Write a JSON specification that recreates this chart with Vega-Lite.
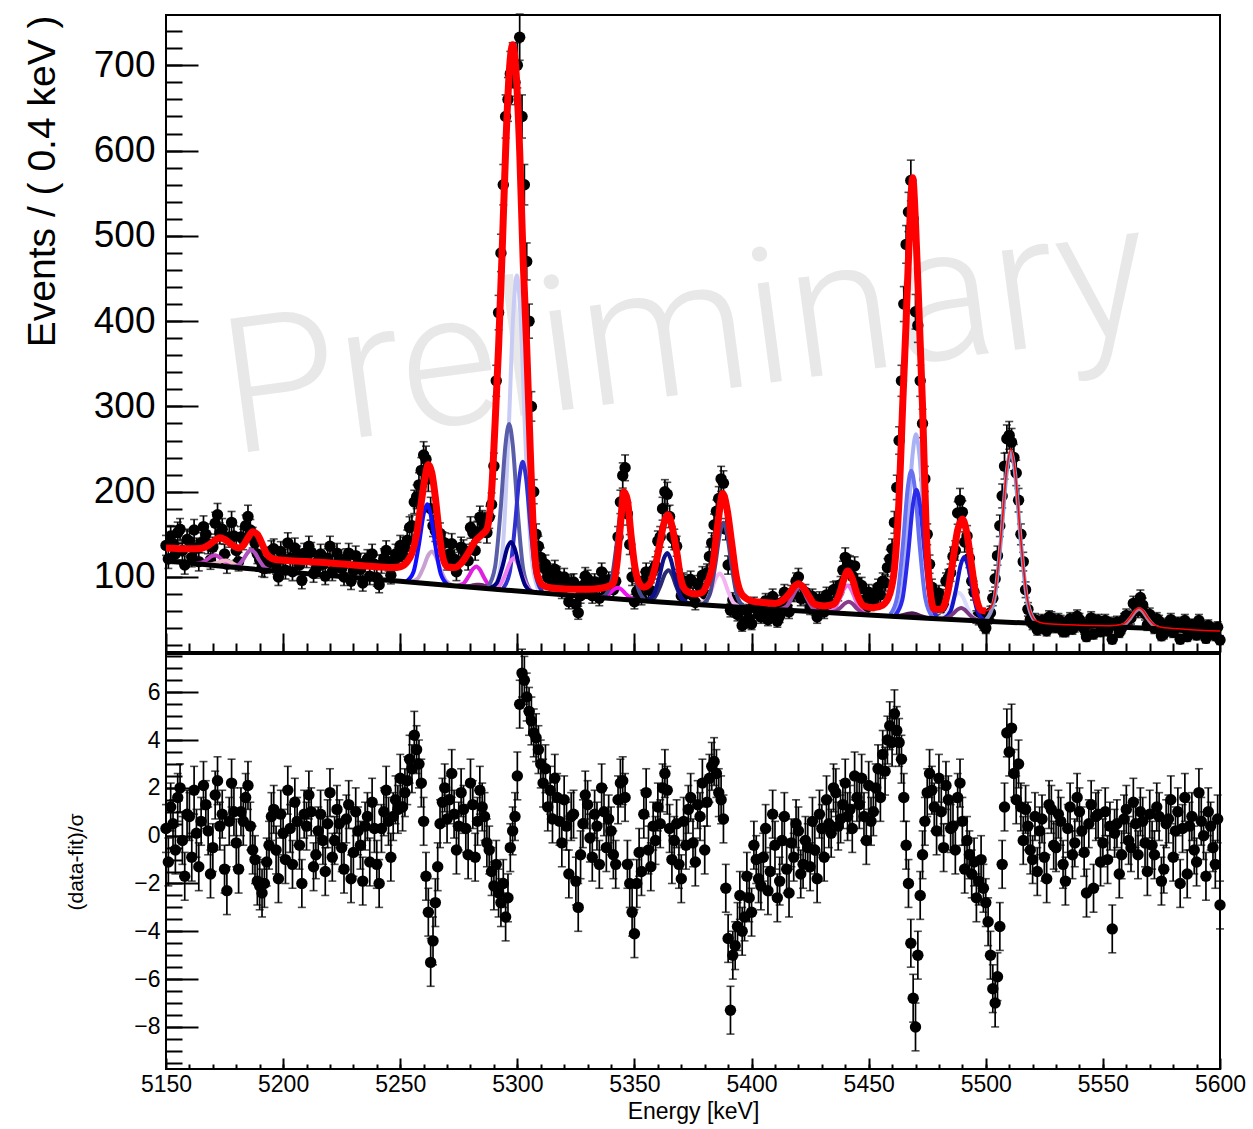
{
"$schema": "https://vega.github.io/schema/vega-lite/v6.json",
"padding": {"left": 22, "top": 12, "right": 5, "bottom": 5},
"background": "white",
"config": {"view": {"stroke": "black", "strokeWidth": 2}, "axis": {"grid": false, "domain": false, "tickColor": "black", "tickWidth": 2, "labelColor": "black", "titleColor": "black", "labelFont": "Liberation Sans", "titleFont": "Liberation Sans", "titleFontWeight": "normal", "labelOverlap": false, "labelFlush": false}},
"spacing": 2,
"bounds": "flush",
"datasets": {
"pts": [
{"E":5150,"n":137,"e":11.7,"r":0.3,"u":1},{"E":5151,"n":121,"e":11.0,"r":-1.1,"u":1},{"E":5152,"n":148,"e":12.2,"r":1.2,"u":1},{"E":5153,"n":139,"e":11.8,"r":0.5,"u":1},{"E":5154,"n":127,"e":11.3,"r":-0.6,"u":1},{"E":5155,"n":152,"e":12.3,"r":1.6,"u":1},{"E":5156,"n":156,"e":12.5,"r":2.0,"u":1},{"E":5157,"n":131,"e":11.4,"r":-0.2,"u":1},{"E":5158,"n":114,"e":10.7,"r":-1.7,"u":1},{"E":5159,"n":144,"e":12.0,"r":0.9,"u":1},
{"E":5160,"n":142,"e":11.9,"r":0.8,"u":1},{"E":5161,"n":123,"e":11.1,"r":-0.9,"u":1},{"E":5162,"n":155,"e":12.4,"r":1.9,"u":1},{"E":5163,"n":134,"e":11.6,"r":0.1,"u":1},{"E":5164,"n":118,"e":10.9,"r":-1.3,"u":1},{"E":5165,"n":140,"e":11.8,"r":0.6,"u":1},{"E":5166,"n":159,"e":12.6,"r":2.1,"u":1},{"E":5167,"n":150,"e":12.2,"r":1.3,"u":1},{"E":5168,"n":139,"e":11.8,"r":0.2,"u":1},{"E":5169,"n":120,"e":11.0,"r":-1.6,"u":1},
{"E":5170,"n":135,"e":11.6,"r":-0.5,"u":1},{"E":5171,"n":163,"e":12.8,"r":1.7,"u":1},{"E":5172,"n":173,"e":13.2,"r":2.3,"u":1},{"E":5173,"n":151,"e":12.3,"r":0.4,"u":1},{"E":5174,"n":156,"e":12.5,"r":0.9,"u":1},{"E":5175,"n":127,"e":11.3,"r":-1.4,"u":1},{"E":5176,"n":115,"e":10.7,"r":-2.3,"u":1},{"E":5177,"n":147,"e":12.1,"r":0.6,"u":1},{"E":5178,"n":164,"e":12.8,"r":2.2,"u":1},{"E":5179,"n":148,"e":12.2,"r":1.0,"u":1},
{"E":5180,"n":131,"e":11.4,"r":-0.3,"u":1},{"E":5181,"n":118,"e":10.9,"r":-1.4,"u":1},{"E":5182,"n":147,"e":12.1,"r":1.0,"u":1},{"E":5183,"n":144,"e":12.0,"r":0.6,"u":1},{"E":5184,"n":160,"e":12.6,"r":1.6,"u":1},{"E":5185,"n":171,"e":13.1,"r":2.1,"u":1},{"E":5186,"n":155,"e":12.4,"r":0.4,"u":1},{"E":5187,"n":146,"e":12.1,"r":-0.6,"u":1},{"E":5188,"n":140,"e":11.8,"r":-1.0,"u":1},{"E":5189,"n":127,"e":11.3,"r":-1.9,"u":1},
{"E":5190,"n":120,"e":11.0,"r":-2.1,"u":1},{"E":5191,"n":111,"e":10.5,"r":-2.4,"u":1},{"E":5192,"n":110,"e":10.5,"r":-2.0,"u":1},{"E":5193,"n":115,"e":10.7,"r":-1.1,"u":1},{"E":5194,"n":120,"e":11.0,"r":-0.4,"u":1},{"E":5195,"n":131,"e":11.4,"r":0.8,"u":1},{"E":5196,"n":133,"e":11.5,"r":1.1,"u":1},{"E":5197,"n":114,"e":10.7,"r":-0.6,"u":1},{"E":5198,"n":100,"e":10.0,"r":-1.8,"u":1},{"E":5199,"n":130,"e":11.4,"r":0.9,"u":1},
{"E":5200,"n":121,"e":11.0,"r":0.1,"u":1},{"E":5201,"n":108,"e":10.4,"r":-1.0,"u":1},{"E":5202,"n":140,"e":11.8,"r":1.9,"u":1},{"E":5203,"n":122,"e":11.0,"r":0.3,"u":1},{"E":5204,"n":106,"e":10.3,"r":-1.2,"u":1},{"E":5205,"n":134,"e":11.6,"r":1.4,"u":1},{"E":5206,"n":125,"e":11.2,"r":0.6,"u":1},{"E":5207,"n":114,"e":10.7,"r":-0.4,"u":1},{"E":5208,"n":96,"e":9.8,"r":-2.0,"u":1},{"E":5209,"n":128,"e":11.3,"r":0.9,"u":1},
{"E":5210,"n":122,"e":11.0,"r":0.4,"u":1},{"E":5211,"n":136,"e":11.7,"r":1.7,"u":1},{"E":5212,"n":129,"e":11.4,"r":1.0,"u":1},{"E":5213,"n":104,"e":10.2,"r":-1.3,"u":1},{"E":5214,"n":109,"e":10.4,"r":-0.8,"u":1},{"E":5215,"n":119,"e":10.9,"r":0.2,"u":1},{"E":5216,"n":127,"e":11.3,"r":0.9,"u":1},{"E":5217,"n":115,"e":10.7,"r":-0.2,"u":1},{"E":5218,"n":101,"e":10.0,"r":-1.5,"u":1},{"E":5219,"n":122,"e":11.0,"r":0.5,"u":1},
{"E":5220,"n":136,"e":11.7,"r":1.8,"u":1},{"E":5221,"n":106,"e":10.3,"r":-0.9,"u":1},{"E":5222,"n":114,"e":10.7,"r":-0.2,"u":1},{"E":5223,"n":128,"e":11.3,"r":1.1,"u":1},{"E":5224,"n":121,"e":11.0,"r":0.5,"u":1},{"E":5225,"n":110,"e":10.5,"r":-0.5,"u":1},{"E":5226,"n":100,"e":10.0,"r":-1.4,"u":1},{"E":5227,"n":122,"e":11.0,"r":0.7,"u":1},{"E":5228,"n":128,"e":11.3,"r":1.3,"u":1},{"E":5229,"n":95,"e":9.7,"r":-1.8,"u":1},
{"E":5230,"n":107,"e":10.3,"r":-0.7,"u":1},{"E":5231,"n":125,"e":11.2,"r":1.0,"u":1},{"E":5232,"n":116,"e":10.8,"r":0.2,"u":1},{"E":5233,"n":109,"e":10.4,"r":-0.4,"u":1},{"E":5234,"n":93,"e":9.6,"r":-1.9,"u":1},{"E":5235,"n":117,"e":10.8,"r":0.4,"u":1},{"E":5236,"n":121,"e":11.0,"r":0.8,"u":1},{"E":5237,"n":101,"e":10.0,"r":-1.1,"u":1},{"E":5238,"n":127,"e":11.3,"r":1.4,"u":1},{"E":5239,"n":115,"e":10.7,"r":0.3,"u":1},
{"E":5240,"n":99,"e":9.9,"r":-1.2,"u":1},{"E":5241,"n":91,"e":9.5,"r":-2.0,"u":1},{"E":5242,"n":115,"e":10.7,"r":0.3,"u":1},{"E":5243,"n":122,"e":11.0,"r":1.0,"u":1},{"E":5244,"n":131,"e":11.4,"r":1.9,"u":1},{"E":5245,"n":118,"e":10.9,"r":0.6,"u":1},{"E":5246,"n":102,"e":10.1,"r":-0.9,"u":1},{"E":5247,"n":119,"e":10.9,"r":0.8,"u":1},{"E":5248,"n":127,"e":11.3,"r":1.5,"u":1},{"E":5249,"n":123,"e":11.1,"r":1.1,"u":1},
{"E":5250,"n":137,"e":11.7,"r":2.4,"u":1},{"E":5251,"n":126,"e":11.2,"r":1.2,"u":1},{"E":5252,"n":135,"e":11.6,"r":1.8,"u":1},{"E":5253,"n":143,"e":12.0,"r":2.3,"u":1},{"E":5254,"n":158,"e":12.6,"r":3.2,"u":1},{"E":5255,"n":160,"e":12.6,"r":2.8,"u":1},{"E":5256,"n":188,"e":13.7,"r":4.2,"u":1},{"E":5257,"n":194,"e":13.9,"r":3.6,"u":1},{"E":5258,"n":208,"e":14.4,"r":3.0,"u":1},{"E":5259,"n":225,"e":15.0,"r":2.2,"u":1},
{"E":5260,"n":243,"e":15.6,"r":0.6,"u":1},{"E":5261,"n":238,"e":15.4,"r":-1.7,"u":1},{"E":5262,"n":215,"e":14.7,"r":-3.2,"u":1},{"E":5263,"n":180,"e":13.4,"r":-5.3,"u":1},{"E":5264,"n":160,"e":12.6,"r":-4.4,"u":1},{"E":5265,"n":154,"e":12.4,"r":-2.8,"u":1},{"E":5266,"n":151,"e":12.3,"r":-1.3,"u":1},{"E":5267,"n":151,"e":12.3,"r":0.5,"u":1},{"E":5268,"n":141,"e":11.9,"r":1.4,"u":1},{"E":5269,"n":140,"e":11.8,"r":2.0,"u":1},
{"E":5270,"n":119,"e":10.9,"r":0.7,"u":1},{"E":5271,"n":127,"e":11.3,"r":1.5,"u":1},{"E":5272,"n":139,"e":11.8,"r":2.6,"u":1},{"E":5273,"n":121,"e":11.0,"r":0.9,"u":1},{"E":5274,"n":106,"e":10.3,"r":-0.6,"u":1},{"E":5275,"n":118,"e":10.9,"r":0.4,"u":1},{"E":5276,"n":135,"e":11.6,"r":1.8,"u":1},{"E":5277,"n":132,"e":11.5,"r":1.1,"u":1},{"E":5278,"n":127,"e":11.3,"r":0.3,"u":1},{"E":5279,"n":119,"e":10.9,"r":-0.8,"u":1},
{"E":5280,"n":158,"e":12.6,"r":2.2,"u":1},{"E":5281,"n":152,"e":12.3,"r":1.3,"u":1},{"E":5282,"n":131,"e":11.4,"r":-0.9,"u":1},{"E":5283,"n":153,"e":12.4,"r":0.6,"u":1},{"E":5284,"n":170,"e":13.0,"r":1.9,"u":1},{"E":5285,"n":165,"e":12.8,"r":1.2,"u":1},{"E":5286,"n":163,"e":12.8,"r":0.8,"u":1},{"E":5287,"n":152,"e":12.3,"r":-0.3,"u":1},{"E":5288,"n":170,"e":13.0,"r":-0.6,"u":1},{"E":5289,"n":185,"e":13.6,"r":-1.5,"u":1},
{"E":5290,"n":230,"e":15.2,"r":-2.1,"u":1},{"E":5291,"n":330,"e":18.2,"r":-1.2,"u":1},{"E":5292,"n":410,"e":20.2,"r":-2.4,"u":1},{"E":5293,"n":480,"e":21.9,"r":-2.8,"u":1},{"E":5294,"n":560,"e":23.7,"r":-2.0,"u":1},{"E":5295,"n":640,"e":25.3,"r":-3.4,"u":1},{"E":5296,"n":660,"e":25.7,"r":-2.6,"u":1},{"E":5297,"n":690,"e":26.3,"r":-0.5,"u":1},{"E":5298,"n":700,"e":26.5,"r":0.2,"u":1},{"E":5299,"n":680,"e":26.1,"r":0.8,"u":1},
{"E":5300,"n":700,"e":26.5,"r":2.5,"u":1},{"E":5301,"n":733,"e":27.1,"r":5.5,"u":1},{"E":5302,"n":640,"e":25.3,"r":6.8,"u":1},{"E":5303,"n":560,"e":23.7,"r":6.5,"u":1},{"E":5304,"n":470,"e":21.7,"r":5.8,"u":1},{"E":5305,"n":400,"e":20.0,"r":5.2,"u":1},{"E":5306,"n":300,"e":17.3,"r":4.8,"u":1},{"E":5307,"n":200,"e":14.1,"r":4.3,"u":1},{"E":5308,"n":150,"e":12.2,"r":4.1,"u":1},{"E":5309,"n":136,"e":11.7,"r":3.6,"u":1},
{"E":5310,"n":123,"e":11.1,"r":3.0,"u":1},{"E":5311,"n":111,"e":10.5,"r":2.2,"u":1},{"E":5312,"n":115,"e":10.7,"r":2.8,"u":1},{"E":5313,"n":99,"e":9.9,"r":1.2,"u":1},{"E":5314,"n":105,"e":10.2,"r":1.9,"u":1},{"E":5315,"n":94,"e":9.7,"r":0.7,"u":1},{"E":5316,"n":109,"e":10.4,"r":2.4,"u":1},{"E":5317,"n":102,"e":10.1,"r":1.6,"u":1},{"E":5318,"n":92,"e":9.6,"r":0.6,"u":1},{"E":5319,"n":84,"e":9.2,"r":-0.3,"u":1},
{"E":5320,"n":100,"e":10.0,"r":1.5,"u":1},{"E":5321,"n":90,"e":9.5,"r":0.4,"u":1},{"E":5322,"n":71,"e":8.4,"r":-1.6,"u":1},{"E":5323,"n":93,"e":9.6,"r":0.8,"u":1},{"E":5324,"n":94,"e":9.7,"r":0.9,"u":1},{"E":5325,"n":68,"e":8.2,"r":-1.9,"u":1},{"E":5326,"n":58,"e":7.6,"r":-3.0,"u":1},{"E":5327,"n":78,"e":8.8,"r":-0.8,"u":1},{"E":5328,"n":90,"e":9.5,"r":0.5,"u":1},{"E":5329,"n":101,"e":10.0,"r":1.7,"u":1},
{"E":5330,"n":98,"e":9.9,"r":1.3,"u":1},{"E":5331,"n":85,"e":9.2,"r":-0.1,"u":1},{"E":5332,"n":78,"e":8.8,"r":-0.9,"u":1},{"E":5333,"n":94,"e":9.7,"r":0.9,"u":1},{"E":5334,"n":90,"e":9.5,"r":0.4,"u":1},{"E":5335,"n":75,"e":8.7,"r":-1.2,"u":1},{"E":5336,"n":106,"e":10.3,"r":2.0,"u":1},{"E":5337,"n":97,"e":9.8,"r":1.0,"u":1},{"E":5338,"n":83,"e":9.1,"r":-0.5,"u":1},{"E":5339,"n":96,"e":9.8,"r":0.7,"u":1},
{"E":5340,"n":93,"e":9.6,"r":0.2,"u":1},{"E":5341,"n":85,"e":9.2,"r":-0.8,"u":1},{"E":5342,"n":95,"e":9.7,"r":-1.2,"u":1},{"E":5343,"n":147,"e":12.1,"r":1.5,"u":1},{"E":5344,"n":188,"e":13.7,"r":2.2,"u":1},{"E":5345,"n":219,"e":14.8,"r":2.3,"u":1},{"E":5346,"n":228,"e":15.1,"r":1.6,"u":1},{"E":5347,"n":174,"e":13.2,"r":-1.2,"u":1},{"E":5348,"n":138,"e":11.7,"r":-2.0,"u":1},{"E":5349,"n":100,"e":10.0,"r":-3.2,"u":1},
{"E":5350,"n":71,"e":8.4,"r":-4.1,"u":1},{"E":5351,"n":83,"e":9.1,"r":-2.0,"u":1},{"E":5352,"n":86,"e":9.3,"r":-0.7,"u":1},{"E":5353,"n":76,"e":8.7,"r":-1.5,"u":1},{"E":5354,"n":96,"e":9.8,"r":0.9,"u":1},{"E":5355,"n":106,"e":10.3,"r":1.8,"u":1},{"E":5356,"n":85,"e":9.2,"r":-0.6,"u":1},{"E":5357,"n":84,"e":9.2,"r":-1.3,"u":1},{"E":5358,"n":108,"e":10.4,"r":0.4,"u":1},{"E":5359,"n":113,"e":10.6,"r":-0.2,"u":1},
{"E":5360,"n":142,"e":11.9,"r":1.2,"u":1},{"E":5361,"n":147,"e":12.1,"r":0.5,"u":1},{"E":5362,"n":180,"e":13.4,"r":2.0,"u":1},{"E":5363,"n":200,"e":14.1,"r":2.6,"u":1},{"E":5364,"n":197,"e":14.0,"r":1.9,"u":1},{"E":5365,"n":171,"e":13.1,"r":0.3,"u":1},{"E":5366,"n":147,"e":12.1,"r":-1.0,"u":1},{"E":5367,"n":144,"e":12.0,"r":-0.2,"u":1},{"E":5368,"n":136,"e":11.7,"r":0.5,"u":1},{"E":5369,"n":99,"e":9.9,"r":-1.2,"u":1},
{"E":5370,"n":78,"e":8.8,"r":-1.8,"u":1},{"E":5371,"n":95,"e":9.7,"r":0.6,"u":1},{"E":5372,"n":80,"e":8.9,"r":-0.4,"u":1},{"E":5373,"n":93,"e":9.6,"r":1.1,"u":1},{"E":5374,"n":97,"e":9.8,"r":1.6,"u":1},{"E":5375,"n":78,"e":8.8,"r":-0.3,"u":1},{"E":5376,"n":70,"e":8.4,"r":-1.1,"u":1},{"E":5377,"n":92,"e":9.6,"r":1.3,"u":1},{"E":5378,"n":88,"e":9.4,"r":0.8,"u":1},{"E":5379,"n":102,"e":10.1,"r":2.2,"u":1},
{"E":5380,"n":80,"e":8.9,"r":-0.6,"u":1},{"E":5381,"n":105,"e":10.2,"r":1.4,"u":1},{"E":5382,"n":124,"e":11.1,"r":2.4,"u":1},{"E":5383,"n":140,"e":11.8,"r":2.9,"u":1},{"E":5384,"n":161,"e":12.7,"r":3.1,"u":1},{"E":5385,"n":177,"e":13.3,"r":2.6,"u":1},{"E":5386,"n":192,"e":13.9,"r":1.8,"u":1},{"E":5387,"n":215,"e":14.7,"r":1.5,"u":1},{"E":5388,"n":210,"e":14.5,"r":0.7,"u":1},{"E":5389,"n":156,"e":12.5,"r":-2.2,"u":1},
{"E":5390,"n":114,"e":10.7,"r":-4.3,"u":1},{"E":5391,"n":61,"e":7.8,"r":-7.3,"u":1},{"E":5392,"n":73,"e":8.5,"r":-5.0,"u":1},{"E":5393,"n":61,"e":7.8,"r":-4.6,"u":1},{"E":5394,"n":56,"e":7.5,"r":-3.8,"u":1},{"E":5395,"n":61,"e":7.8,"r":-2.5,"u":1},{"E":5396,"n":43,"e":6.6,"r":-4.0,"u":1},{"E":5397,"n":47,"e":6.9,"r":-3.4,"u":1},{"E":5398,"n":60,"e":7.7,"r":-1.7,"u":1},{"E":5399,"n":51,"e":7.1,"r":-2.6,"u":1},
{"E":5400,"n":45,"e":6.7,"r":-3.2,"u":1},{"E":5401,"n":68,"e":8.2,"r":-0.4,"u":1},{"E":5402,"n":63,"e":7.9,"r":-1.0,"u":1},{"E":5403,"n":56,"e":7.5,"r":-1.8,"u":1},{"E":5404,"n":53,"e":7.3,"r":-2.1,"u":1},{"E":5405,"n":62,"e":7.9,"r":-0.9,"u":1},{"E":5406,"n":72,"e":8.5,"r":0.3,"u":1},{"E":5407,"n":50,"e":7.1,"r":-2.3,"u":1},{"E":5408,"n":57,"e":7.5,"r":-1.5,"u":1},{"E":5409,"n":77,"e":8.8,"r":0.9,"u":1},
{"E":5410,"n":66,"e":8.1,"r":-0.4,"u":1},{"E":5411,"n":48,"e":6.9,"r":-2.6,"u":1},{"E":5412,"n":54,"e":7.3,"r":-1.9,"u":1},{"E":5413,"n":70,"e":8.4,"r":-0.2,"u":1},{"E":5414,"n":82,"e":9.1,"r":0.8,"u":1},{"E":5415,"n":65,"e":8.1,"r":-1.4,"u":1},{"E":5416,"n":59,"e":7.7,"r":-2.4,"u":1},{"E":5417,"n":81,"e":9.0,"r":-0.3,"u":1},{"E":5418,"n":80,"e":8.9,"r":-0.9,"u":1},{"E":5419,"n":95,"e":9.7,"r":0.5,"u":1},
{"E":5420,"n":100,"e":10.0,"r":0.2,"u":1},{"E":5421,"n":75,"e":8.7,"r":-1.6,"u":1},{"E":5422,"n":77,"e":8.8,"r":-1.2,"u":1},{"E":5423,"n":82,"e":9.1,"r":-0.2,"u":1},{"E":5424,"n":75,"e":8.7,"r":-0.5,"u":1},{"E":5425,"n":64,"e":8.0,"r":-1.3,"u":1},{"E":5426,"n":77,"e":8.8,"r":0.6,"u":1},{"E":5427,"n":63,"e":7.9,"r":-0.6,"u":1},{"E":5428,"n":53,"e":7.3,"r":-1.8,"u":1},{"E":5429,"n":74,"e":8.6,"r":0.9,"u":1},
{"E":5430,"n":68,"e":8.2,"r":0.3,"u":1},{"E":5431,"n":59,"e":7.7,"r":-0.9,"u":1},{"E":5432,"n":79,"e":8.9,"r":1.5,"u":1},{"E":5433,"n":71,"e":8.4,"r":0.5,"u":1},{"E":5434,"n":68,"e":8.2,"r":0.1,"u":1},{"E":5435,"n":85,"e":9.2,"r":2.0,"u":1},{"E":5436,"n":86,"e":9.3,"r":1.8,"u":1},{"E":5437,"n":81,"e":9.0,"r":0.4,"u":1},{"E":5438,"n":91,"e":9.5,"r":0.7,"u":1},{"E":5439,"n":108,"e":10.4,"r":1.3,"u":1},
{"E":5440,"n":123,"e":11.1,"r":2.2,"u":1},{"E":5441,"n":115,"e":10.7,"r":0.8,"u":1},{"E":5442,"n":114,"e":10.7,"r":1.1,"u":1},{"E":5443,"n":101,"e":10.0,"r":0.3,"u":1},{"E":5444,"n":113,"e":10.6,"r":2.5,"u":1},{"E":5445,"n":94,"e":9.7,"r":1.6,"u":1},{"E":5446,"n":86,"e":9.3,"r":1.3,"u":1},{"E":5447,"n":90,"e":9.5,"r":2.4,"u":1},{"E":5448,"n":73,"e":8.5,"r":0.8,"u":1},{"E":5449,"n":64,"e":8.0,"r":-0.2,"u":1},
{"E":5450,"n":82,"e":9.1,"r":2.1,"u":1},{"E":5451,"n":69,"e":8.3,"r":0.6,"u":1},{"E":5452,"n":72,"e":8.5,"r":1.0,"u":1},{"E":5453,"n":81,"e":9.0,"r":2.0,"u":1},{"E":5454,"n":88,"e":9.4,"r":2.8,"u":1},{"E":5455,"n":79,"e":8.9,"r":1.6,"u":1},{"E":5456,"n":95,"e":9.7,"r":3.4,"u":1},{"E":5457,"n":93,"e":9.6,"r":2.7,"u":1},{"E":5458,"n":111,"e":10.5,"r":4.0,"u":1},{"E":5459,"n":121,"e":11.0,"r":4.6,"u":1},
{"E":5460,"n":133,"e":11.5,"r":3.9,"u":1},{"E":5461,"n":164,"e":12.8,"r":5.1,"u":1},{"E":5462,"n":205,"e":14.3,"r":4.4,"u":1},{"E":5463,"n":260,"e":16.1,"r":3.9,"u":1},{"E":5464,"n":330,"e":18.2,"r":3.2,"u":1},{"E":5465,"n":420,"e":20.5,"r":1.6,"u":1},{"E":5466,"n":490,"e":22.1,"r":-0.4,"u":1},{"E":5467,"n":528,"e":23.0,"r":-2.0,"u":1},{"E":5468,"n":565,"e":23.8,"r":-4.5,"u":1},{"E":5469,"n":520,"e":22.8,"r":-6.8,"u":1},
{"E":5470,"n":411,"e":20.3,"r":-8.0,"u":1},{"E":5471,"n":395,"e":19.9,"r":-5.0,"u":1},{"E":5472,"n":330,"e":18.2,"r":-2.5,"u":1},{"E":5473,"n":280,"e":16.7,"r":-0.8,"u":1},{"E":5474,"n":215,"e":14.7,"r":0.6,"u":1},{"E":5475,"n":150,"e":12.2,"r":1.8,"u":1},{"E":5476,"n":115,"e":10.7,"r":2.6,"u":1},{"E":5477,"n":88,"e":9.4,"r":1.9,"u":1},{"E":5478,"n":71,"e":8.4,"r":1.2,"u":1},{"E":5479,"n":64,"e":8.0,"r":0.2,"u":1},
{"E":5480,"n":81,"e":9.0,"r":2.4,"u":1},{"E":5481,"n":70,"e":8.4,"r":1.0,"u":1},{"E":5482,"n":66,"e":8.1,"r":-0.5,"u":1},{"E":5483,"n":95,"e":9.7,"r":2.1,"u":1},{"E":5484,"n":99,"e":9.9,"r":1.5,"u":1},{"E":5485,"n":105,"e":10.2,"r":0.3,"u":1},{"E":5486,"n":124,"e":11.1,"r":0.4,"u":1},{"E":5487,"n":131,"e":11.4,"r":-0.6,"u":1},{"E":5488,"n":175,"e":13.2,"r":1.6,"u":1},{"E":5489,"n":190,"e":13.8,"r":2.2,"u":1},
{"E":5490,"n":176,"e":13.3,"r":0.6,"u":1},{"E":5491,"n":141,"e":11.9,"r":-1.4,"u":1},{"E":5492,"n":148,"e":12.2,"r":-0.2,"u":1},{"E":5493,"n":122,"e":11.0,"r":-0.8,"u":1},{"E":5494,"n":95,"e":9.7,"r":-1.6,"u":1},{"E":5495,"n":82,"e":9.1,"r":-1.1,"u":1},{"E":5496,"n":53,"e":7.3,"r":-2.6,"u":1},{"E":5497,"n":51,"e":7.1,"r":-1.9,"u":1},{"E":5498,"n":53,"e":7.3,"r":-1.0,"u":1},{"E":5499,"n":44,"e":6.6,"r":-2.2,"u":1},
{"E":5500,"n":40,"e":6.3,"r":-2.8,"u":1},{"E":5501,"n":52,"e":7.2,"r":-3.6,"u":1},{"E":5502,"n":58,"e":7.6,"r":-5.0,"u":1},{"E":5503,"n":75,"e":8.7,"r":-6.4,"u":1},{"E":5504,"n":98,"e":9.9,"r":-7.0,"u":1},{"E":5505,"n":125,"e":11.2,"r":-5.9,"u":1},{"E":5506,"n":160,"e":12.6,"r":-3.8,"u":1},{"E":5507,"n":195,"e":14.0,"r":-1.2,"u":1},{"E":5508,"n":230,"e":15.2,"r":1.2,"u":1},{"E":5509,"n":262,"e":16.2,"r":4.3,"u":1},
{"E":5510,"n":266,"e":16.3,"r":3.5,"u":1},{"E":5511,"n":258,"e":16.1,"r":4.5,"u":1},{"E":5512,"n":240,"e":15.5,"r":2.6,"u":1},{"E":5513,"n":222,"e":14.9,"r":1.5,"u":1},{"E":5514,"n":190,"e":13.8,"r":3.0,"u":1},{"E":5515,"n":150,"e":12.2,"r":1.2,"u":1},{"E":5516,"n":118,"e":10.9,"r":-0.2,"u":1},{"E":5517,"n":85,"e":9.2,"r":1.1,"u":1},{"E":5518,"n":62,"e":7.9,"r":0.4,"u":1},{"E":5519,"n":50,"e":7.1,"r":-0.6,"u":1},
{"E":5520,"n":45,"e":6.7,"r":-1.0,"u":1},{"E":5521,"n":50,"e":7.1,"r":0.8,"u":1},{"E":5522,"n":38,"e":6.2,"r":-1.5,"u":1},{"E":5523,"n":46,"e":6.8,"r":0.2,"u":1},{"E":5524,"n":49,"e":7.0,"r":0.7,"u":1},{"E":5525,"n":40,"e":6.3,"r":-0.9,"u":1},{"E":5526,"n":37,"e":6.1,"r":-1.8,"u":1},{"E":5527,"n":53,"e":7.3,"r":1.3,"u":1},{"E":5528,"n":52,"e":7.2,"r":1.1,"u":1},{"E":5529,"n":42,"e":6.5,"r":-0.4,"u":1},
{"E":5530,"n":41,"e":6.4,"r":-0.5,"u":1},{"E":5531,"n":50,"e":7.1,"r":0.9,"u":1},{"E":5532,"n":48,"e":6.9,"r":0.6,"u":1},{"E":5533,"n":36,"e":6.0,"r":-1.2,"u":1},{"E":5534,"n":36,"e":6.0,"r":-1.9,"u":1},{"E":5535,"n":46,"e":6.8,"r":0.3,"u":1},{"E":5536,"n":51,"e":7.1,"r":1.2,"u":1},{"E":5537,"n":39,"e":6.2,"r":-0.8,"u":1},{"E":5538,"n":42,"e":6.5,"r":-0.3,"u":1},{"E":5539,"n":54,"e":7.3,"r":1.6,"u":1},
{"E":5540,"n":50,"e":7.1,"r":1.0,"u":1},{"E":5541,"n":45,"e":6.7,"r":0.2,"u":1},{"E":5542,"n":39,"e":6.2,"r":-0.7,"u":1},{"E":5543,"n":30,"e":5.5,"r":-2.4,"u":1},{"E":5544,"n":46,"e":6.8,"r":0.5,"u":1},{"E":5545,"n":52,"e":7.2,"r":1.3,"u":1},{"E":5546,"n":33,"e":5.7,"r":-2.2,"u":1},{"E":5547,"n":48,"e":6.9,"r":0.8,"u":1},{"E":5548,"n":49,"e":7.0,"r":0.9,"u":1},{"E":5549,"n":36,"e":6.0,"r":-1.1,"u":1},
{"E":5550,"n":41,"e":6.4,"r":-0.3,"u":1},{"E":5551,"n":49,"e":7.0,"r":1.0,"u":1},{"E":5552,"n":37,"e":6.1,"r":-1.0,"u":1},{"E":5553,"n":46,"e":6.8,"r":0.4,"u":1},{"E":5554,"n":27,"e":5.2,"r":-3.9,"u":1},{"E":5555,"n":44,"e":6.6,"r":0.1,"u":1},{"E":5556,"n":47,"e":6.9,"r":0.5,"u":1},{"E":5557,"n":35,"e":5.9,"r":-1.6,"u":1},{"E":5558,"n":40,"e":6.3,"r":-0.8,"u":1},{"E":5559,"n":50,"e":7.1,"r":0.7,"u":1},
{"E":5560,"n":55,"e":7.4,"r":1.1,"u":1},{"E":5561,"n":51,"e":7.1,"r":-0.2,"u":1},{"E":5562,"n":52,"e":7.2,"r":-0.5,"u":1},{"E":5563,"n":69,"e":8.3,"r":1.4,"u":1},{"E":5564,"n":66,"e":8.1,"r":0.5,"u":1},{"E":5565,"n":60,"e":7.7,"r":-0.8,"u":1},{"E":5566,"n":76,"e":8.7,"r":1.0,"u":1},{"E":5567,"n":67,"e":8.2,"r":0.6,"u":1},{"E":5568,"n":57,"e":7.5,"r":-0.3,"u":1},{"E":5569,"n":44,"e":6.6,"r":-1.5,"u":1},
{"E":5570,"n":56,"e":7.5,"r":0.9,"u":1},{"E":5571,"n":45,"e":6.7,"r":-0.4,"u":1},{"E":5572,"n":40,"e":6.3,"r":-0.8,"u":1},{"E":5573,"n":51,"e":7.1,"r":1.2,"u":1},{"E":5574,"n":48,"e":6.9,"r":0.8,"u":1},{"E":5575,"n":31,"e":5.6,"r":-1.9,"u":1},{"E":5576,"n":33,"e":5.7,"r":-1.4,"u":1},{"E":5577,"n":44,"e":6.6,"r":0.5,"u":1},{"E":5578,"n":45,"e":6.7,"r":0.7,"u":1},{"E":5579,"n":50,"e":7.1,"r":1.5,"u":1},
{"E":5580,"n":35,"e":5.9,"r":-0.9,"u":1},{"E":5581,"n":41,"e":6.4,"r":0.2,"u":1},{"E":5582,"n":46,"e":6.8,"r":1.0,"u":1},{"E":5583,"n":27,"e":5.2,"r":-2.0,"u":1},{"E":5584,"n":41,"e":6.4,"r":0.3,"u":1},{"E":5585,"n":49,"e":7.0,"r":1.6,"u":1},{"E":5586,"n":30,"e":5.5,"r":-1.6,"u":1},{"E":5587,"n":41,"e":6.4,"r":0.4,"u":1},{"E":5588,"n":44,"e":6.6,"r":0.8,"u":1},{"E":5589,"n":35,"e":5.9,"r":-0.6,"u":1},
{"E":5590,"n":32,"e":5.7,"r":-1.1,"u":1},{"E":5591,"n":49,"e":7.0,"r":1.8,"u":1},{"E":5592,"n":42,"e":6.5,"r":0.6,"u":1},{"E":5593,"n":38,"e":6.2,"r":0.0,"u":1},{"E":5594,"n":28,"e":5.3,"r":-1.7,"u":1},{"E":5595,"n":43,"e":6.6,"r":1.0,"u":1},{"E":5596,"n":40,"e":6.3,"r":0.4,"u":1},{"E":5597,"n":34,"e":5.8,"r":-0.5,"u":1},{"E":5598,"n":31,"e":5.6,"r":-1.2,"u":1},{"E":5599,"n":41,"e":6.4,"r":0.7,"u":1},
{"E":5600,"n":26,"e":5.1,"r":-2.9,"u":1}
],
"comps": [
{"c":"c8","E":5290.8,"v":89.6},{"c":"c8","E":5293.8,"v":134.8},{"c":"c8","E":5296.2,"v":264.5},{"c":"c8","E":5298.3,"v":410.1},{"c":"c8","E":5299.8,"v":453.5},{"c":"c8","E":5301.3,"v":409.5},{"c":"c8","E":5303.4,"v":262.9},{"c":"c8","E":5305.8,"v":132.2},{"c":"c8","E":5308.8,"v":85.6},
{"c":"c22","E":5461.2,"v":56.1},{"c":"c22","E":5464.2,"v":82.2},{"c":"c22","E":5466.6,"v":157.5},{"c":"c22","E":5468.7,"v":242.1},{"c":"c22","E":5470.2,"v":267.3},{"c":"c22","E":5471.7,"v":241.7},{"c":"c22","E":5473.8,"v":156.5},{"c":"c22","E":5476.2,"v":80.4},{"c":"c22","E":5479.2,"v":53.3},
{"c":"c1","E":5162,"v":115.9},{"c":"c1","E":5165,"v":116.6},{"c":"c1","E":5167.4,"v":120.2},{"c":"c1","E":5169.5,"v":124.4},{"c":"c1","E":5171,"v":125.4},{"c":"c1","E":5172.5,"v":123.6},{"c":"c1","E":5174.6,"v":118.2},{"c":"c1","E":5177,"v":113.4},{"c":"c1","E":5180,"v":111.1},
{"c":"c2","E":5165.9,"v":114.9},{"c":"c2","E":5169.1,"v":114.8},{"c":"c2","E":5171.7,"v":116.6},{"c":"c2","E":5173.9,"v":118.8},{"c":"c2","E":5175.5,"v":119.2},{"c":"c2","E":5177.1,"v":118},{"c":"c2","E":5179.3,"v":114.6},{"c":"c2","E":5181.9,"v":111.4},{"c":"c2","E":5185.1,"v":109.7},
{"c":"c3","E":5178.1,"v":111.9},{"c":"c3","E":5180.9,"v":114},{"c":"c3","E":5183.1,"v":121.1},{"c":"c3","E":5185.1,"v":129.3},{"c":"c3","E":5186.5,"v":131.5},{"c":"c3","E":5187.9,"v":128.5},{"c":"c3","E":5189.9,"v":119.3},{"c":"c3","E":5192.1,"v":111},{"c":"c3","E":5194.9,"v":107.5},
{"c":"c5","E":5254.5,"v":94.3},{"c":"c5","E":5257.5,"v":98.3},{"c":"c5","E":5259.9,"v":111.1},{"c":"c5","E":5262,"v":125.6},{"c":"c5","E":5263.5,"v":129.8},{"c":"c5","E":5265,"v":125},{"c":"c5","E":5267.1,"v":109.5},{"c":"c5","E":5269.5,"v":95.5},{"c":"c5","E":5272.5,"v":90.1},
{"c":"c4","E":5252.8,"v":95.2},{"c":"c4","E":5255.7,"v":106.1},{"c":"c4","E":5258,"v":138.3},{"c":"c4","E":5260.05,"v":174.5},{"c":"c4","E":5261.5,"v":185.2},{"c":"c4","E":5262.95,"v":173.9},{"c":"c4","E":5265,"v":136.7},{"c":"c4","E":5267.3,"v":103.5},{"c":"c4","E":5270.2,"v":91.2},
{"c":"c6","E":5274.1,"v":89.5},{"c":"c6","E":5276.9,"v":92},{"c":"c6","E":5279.1,"v":100.3},{"c":"c6","E":5281.1,"v":109.6},{"c":"c6","E":5282.5,"v":112.3},{"c":"c6","E":5283.9,"v":109},{"c":"c6","E":5285.9,"v":98.7},{"c":"c6","E":5288.1,"v":89.4},{"c":"c6","E":5290.9,"v":85.7},
{"c":"c7","E":5275,"v":89.1},{"c":"c7","E":5278,"v":88.9},{"c":"c7","E":5280.4,"v":89.8},{"c":"c7","E":5282.5,"v":90.9},{"c":"c7","E":5284,"v":91},{"c":"c7","E":5285.5,"v":90.2},{"c":"c7","E":5287.6,"v":88.1},{"c":"c7","E":5290,"v":86.2},{"c":"c7","E":5293,"v":85},
{"c":"c10","E":5287.5,"v":88.4},{"c":"c10","E":5290.5,"v":111.9},{"c":"c10","E":5292.9,"v":180.1},{"c":"c10","E":5295,"v":256.6},{"c":"c10","E":5296.5,"v":279.3},{"c":"c10","E":5298,"v":256},{"c":"c10","E":5300.1,"v":178.5},{"c":"c10","E":5302.5,"v":109.3},{"c":"c10","E":5305.5,"v":84.4},
{"c":"c11","E":5293.9,"v":86.5},{"c":"c11","E":5296.7,"v":104.7},{"c":"c11","E":5298.9,"v":157.7},{"c":"c11","E":5300.9,"v":217.3},{"c":"c11","E":5302.3,"v":235},{"c":"c11","E":5303.7,"v":216.7},{"c":"c11","E":5305.7,"v":156.3},{"c":"c11","E":5307.9,"v":102.3},{"c":"c11","E":5310.7,"v":82.9},
{"c":"c13","E":5289.5,"v":86.2},{"c":"c13","E":5292.5,"v":90.2},{"c":"c13","E":5294.9,"v":103.1},{"c":"c13","E":5297,"v":117.6},{"c":"c13","E":5298.5,"v":121.8},{"c":"c13","E":5300,"v":117},{"c":"c13","E":5302.1,"v":101.5},{"c":"c13","E":5304.5,"v":87.6},{"c":"c13","E":5307.5,"v":82.2},
{"c":"c12","E":5288.3,"v":86.7},{"c":"c12","E":5291.3,"v":93.1},{"c":"c12","E":5293.7,"v":112.7},{"c":"c12","E":5295.8,"v":134.7},{"c":"c12","E":5297.3,"v":141.1},{"c":"c12","E":5298.8,"v":134.1},{"c":"c12","E":5300.9,"v":111.1},{"c":"c12","E":5303.3,"v":90.5},{"c":"c12","E":5306.3,"v":82.7},
{"c":"c14","E":5334.6,"v":76.2},{"c":"c14","E":5337.4,"v":77.3},{"c":"c14","E":5339.6,"v":81.3},{"c":"c14","E":5341.6,"v":86.1},{"c":"c14","E":5343,"v":87.3},{"c":"c14","E":5344.4,"v":85.5},{"c":"c14","E":5346.4,"v":79.9},{"c":"c14","E":5348.6,"v":74.9},{"c":"c14","E":5351.4,"v":72.6},
{"c":"c15","E":5336.9,"v":76.8},{"c":"c15","E":5339.8,"v":90.8},{"c":"c15","E":5342.1,"v":131.9},{"c":"c15","E":5344.15,"v":178.1},{"c":"c15","E":5345.6,"v":191.7},{"c":"c15","E":5347.05,"v":177.5},{"c":"c15","E":5349.1,"v":130.5},{"c":"c15","E":5351.4,"v":88.4},{"c":"c15","E":5354.3,"v":73.2},
{"c":"c30","E":5355.8,"v":72.1},{"c":"c30","E":5358.7,"v":76.2},{"c":"c30","E":5361,"v":89.2},{"c":"c30","E":5363.05,"v":103.8},{"c":"c30","E":5364.5,"v":108},{"c":"c30","E":5365.95,"v":103.2},{"c":"c30","E":5368,"v":87.8},{"c":"c30","E":5370.3,"v":74},{"c":"c30","E":5373.2,"v":68.7},
{"c":"c16","E":5355.3,"v":72.4},{"c":"c16","E":5358.2,"v":79},{"c":"c16","E":5360.5,"v":99},{"c":"c16","E":5362.55,"v":121.6},{"c":"c16","E":5364,"v":128.1},{"c":"c16","E":5365.45,"v":121},{"c":"c16","E":5367.5,"v":97.6},{"c":"c16","E":5369.8,"v":76.8},{"c":"c16","E":5372.7,"v":69},
{"c":"c18","E":5377.7,"v":68},{"c":"c18","E":5380.6,"v":72.1},{"c":"c18","E":5382.9,"v":85.1},{"c":"c18","E":5384.95,"v":99.8},{"c":"c18","E":5386.4,"v":104},{"c":"c18","E":5387.85,"v":99.2},{"c":"c18","E":5389.9,"v":83.9},{"c":"c18","E":5392.2,"v":70.1},{"c":"c18","E":5395.1,"v":64.8},
{"c":"c17","E":5379.3,"v":68.4},{"c":"c17","E":5382.2,"v":79.9},{"c":"c17","E":5384.5,"v":114},{"c":"c17","E":5386.55,"v":152.4},{"c":"c17","E":5388,"v":163.7},{"c":"c17","E":5389.45,"v":151.8},{"c":"c17","E":5391.5,"v":112.8},{"c":"c17","E":5393.8,"v":77.9},{"c":"c17","E":5396.7,"v":65.2},
{"c":"c19","E":5411.8,"v":61.9},{"c":"c19","E":5414.7,"v":64.9},{"c":"c19","E":5417,"v":74.4},{"c":"c19","E":5419.05,"v":85.1},{"c":"c19","E":5420.5,"v":88.2},{"c":"c19","E":5421.95,"v":84.7},{"c":"c19","E":5424,"v":73.2},{"c":"c19","E":5426.3,"v":63.1},{"c":"c19","E":5429.2,"v":59.1},
{"c":"c20","E":5432.3,"v":58.7},{"c":"c20","E":5435.2,"v":62.3},{"c":"c20","E":5437.5,"v":73.6},{"c":"c20","E":5439.55,"v":86.2},{"c":"c20","E":5441,"v":89.9},{"c":"c20","E":5442.45,"v":85.8},{"c":"c20","E":5444.5,"v":72.4},{"c":"c20","E":5446.8,"v":60.5},{"c":"c20","E":5449.7,"v":55.9},
{"c":"c21","E":5432.8,"v":58.4},{"c":"c21","E":5435.7,"v":59.6},{"c":"c21","E":5438,"v":64.2},{"c":"c21","E":5440.05,"v":69.3},{"c":"c21","E":5441.5,"v":70.8},{"c":"c21","E":5442.95,"v":68.9},{"c":"c21","E":5445,"v":63},{"c":"c21","E":5447.3,"v":57.8},{"c":"c21","E":5450.2,"v":55.6},
{"c":"c23","E":5459.2,"v":55.9},{"c":"c23","E":5462.2,"v":76.7},{"c":"c23","E":5464.6,"v":136.9},{"c":"c23","E":5466.7,"v":204.5},{"c":"c23","E":5468.2,"v":224.6},{"c":"c23","E":5469.7,"v":204.1},{"c":"c23","E":5471.8,"v":135.9},{"c":"c23","E":5474.2,"v":74.9},{"c":"c23","E":5477.2,"v":53.1},
{"c":"c24","E":5461.4,"v":55.4},{"c":"c24","E":5464.4,"v":73.5},{"c":"c24","E":5466.8,"v":125.8},{"c":"c24","E":5468.9,"v":184.8},{"c":"c24","E":5470.4,"v":202.3},{"c":"c24","E":5471.9,"v":184.4},{"c":"c24","E":5474,"v":124.8},{"c":"c24","E":5476.4,"v":71.7},{"c":"c24","E":5479.4,"v":52.6},
{"c":"c25","E":5459.5,"v":53.9},{"c":"c25","E":5462.5,"v":54.1},{"c":"c25","E":5464.9,"v":55.4},{"c":"c25","E":5467,"v":57},{"c":"c25","E":5468.5,"v":57.5},{"c":"c25","E":5470,"v":56.7},{"c":"c25","E":5472.1,"v":54.4},{"c":"c25","E":5474.5,"v":52.3},{"c":"c25","E":5477.5,"v":51.2},
{"c":"c31","E":5479.5,"v":51.3},{"c":"c31","E":5482.5,"v":54.7},{"c":"c31","E":5484.9,"v":65.7},{"c":"c31","E":5487,"v":78},{"c":"c31","E":5488.5,"v":81.6},{"c":"c31","E":5490,"v":77.6},{"c":"c31","E":5492.1,"v":64.7},{"c":"c31","E":5494.5,"v":53.1},{"c":"c31","E":5497.5,"v":48.7},
{"c":"c26","E":5482.1,"v":51.3},{"c":"c26","E":5485,"v":60.1},{"c":"c26","E":5487.3,"v":85.8},{"c":"c26","E":5489.35,"v":114.8},{"c":"c26","E":5490.8,"v":123.3},{"c":"c26","E":5492.25,"v":114.4},{"c":"c26","E":5494.3,"v":84.8},{"c":"c26","E":5496.6,"v":58.5},{"c":"c26","E":5499.5,"v":48.9},
{"c":"c27","E":5480.8,"v":50.7},{"c":"c27","E":5483.7,"v":52.2},{"c":"c27","E":5486,"v":56.8},{"c":"c27","E":5488.05,"v":62},{"c":"c27","E":5489.5,"v":63.5},{"c":"c27","E":5490.95,"v":61.6},{"c":"c27","E":5493,"v":55.8},{"c":"c27","E":5495.3,"v":50.6},{"c":"c27","E":5498.2,"v":48.5},
{"c":"c28","E":5500.2,"v":50.2},{"c":"c28","E":5503.7,"v":74.5},{"c":"c28","E":5506.5,"v":144.6},{"c":"c28","E":5508.95,"v":223.3},{"c":"c28","E":5510.7,"v":246.7},{"c":"c28","E":5512.45,"v":222.9},{"c":"c28","E":5514.9,"v":143.6},{"c":"c28","E":5517.7,"v":72.9},{"c":"c28","E":5521.2,"v":47.6},
{"c":"c29","E":5555.9,"v":41.6},{"c":"c29","E":5559.1,"v":44},{"c":"c29","E":5561.66,"v":51.4},{"c":"c29","E":5563.9,"v":59.9},{"c":"c29","E":5565.5,"v":62.3},{"c":"c29","E":5567.1,"v":59.5},{"c":"c29","E":5569.34,"v":50.6},{"c":"c29","E":5571.9,"v":42.6},{"c":"c29","E":5575.1,"v":39.4}
],
"bg": [
{"E":5150,"v":119},{"E":5175,"v":112.3},{"E":5200,"v":106},{"E":5225,"v":100.5},{"E":5250,"v":95},{"E":5275,"v":89},{"E":5300,"v":83.5},{"E":5325,"v":78},{"E":5350,"v":72.8},{"E":5375,"v":68},{"E":5400,"v":63.5},{"E":5425,"v":59.5},{"E":5450,"v":55.5},{"E":5475,"v":51.5},{"E":5500,"v":48},{"E":5525,"v":45},{"E":5550,"v":42},{"E":5575,"v":39.3},{"E":5600,"v":36.7}
],
"fit": [
{"E":5150,"v":134},{"E":5160,"v":133},{"E":5165,"v":133.5},{"E":5168,"v":137},{"E":5171,"v":143},{"E":5173,"v":146},{"E":5175,"v":144},{"E":5178,"v":138},{"E":5181,"v":134},{"E":5183,"v":137},{"E":5185,"v":146},{"E":5187,"v":153},{"E":5189,"v":150},{"E":5191,"v":139},{"E":5193,"v":127},{"E":5196,"v":121},{"E":5200,"v":119.5},{"E":5210,"v":118},{"E":5220,"v":116.5},{"E":5230,"v":114},{"E":5240,"v":112},{"E":5247,"v":111},{"E":5250,"v":112},{"E":5253,"v":118},{"E":5255,"v":128},{"E":5257,"v":150},{"E":5259,"v":188},{"E":5260.5,"v":215},{"E":5262,"v":232},{"E":5263.5,"v":222},{"E":5265,"v":193},{"E":5266.5,"v":155},{"E":5268,"v":125},{"E":5270,"v":112},{"E":5273,"v":111},{"E":5276,"v":116},{"E":5279,"v":128},{"E":5282,"v":142},{"E":5285,"v":150},{"E":5287,"v":156},{"E":5289,"v":200},{"E":5290.5,"v":280},{"E":5292,"v":370},{"E":5293.5,"v":480},{"E":5295,"v":600},{"E":5296.5,"v":690},{"E":5298,"v":724},{"E":5299.5,"v":690},{"E":5301,"v":600},{"E":5302.5,"v":470},{"E":5304,"v":370},{"E":5305.5,"v":250},{"E":5307,"v":145},{"E":5308.5,"v":103},{"E":5311,"v":90},{"E":5315,"v":87},{"E":5320,"v":86},{"E":5327,"v":85.5},{"E":5333,"v":86},{"E":5338,"v":88},{"E":5341,"v":93},{"E":5342.5,"v":115},{"E":5344,"v":160},{"E":5345.5,"v":200},{"E":5347,"v":190},{"E":5348.5,"v":150},{"E":5350,"v":115},{"E":5352,"v":93},{"E":5354,"v":88},{"E":5356.5,"v":92},{"E":5358.5,"v":108},{"E":5360.5,"v":134},{"E":5362.5,"v":162},{"E":5364.3,"v":173},{"E":5366,"v":160},{"E":5368,"v":130},{"E":5370,"v":95},{"E":5372,"v":84},{"E":5376,"v":80},{"E":5379,"v":82},{"E":5381,"v":92},{"E":5383.5,"v":115},{"E":5385.5,"v":160},{"E":5387.7,"v":198},{"E":5389.5,"v":180},{"E":5391.5,"v":140},{"E":5393.5,"v":100},{"E":5396,"v":79},{"E":5400,"v":72},{"E":5405,"v":70},{"E":5410,"v":69},{"E":5413,"v":72},{"E":5416,"v":80},{"E":5418,"v":88},{"E":5420,"v":92},{"E":5422,"v":88},{"E":5424.5,"v":77},{"E":5427,"v":68},{"E":5431,"v":66},{"E":5435,"v":68},{"E":5437.5,"v":80},{"E":5439.5,"v":98},{"E":5441,"v":107},{"E":5443,"v":98},{"E":5445,"v":80},{"E":5448,"v":66},{"E":5452,"v":64},{"E":5456,"v":67},{"E":5459,"v":80},{"E":5461,"v":110},{"E":5463,"v":193},{"E":5464.5,"v":300},{"E":5466,"v":400},{"E":5467.5,"v":510},{"E":5468.8,"v":568},{"E":5470,"v":515},{"E":5471.5,"v":410},{"E":5473,"v":300},{"E":5474.5,"v":160},{"E":5476,"v":90},{"E":5478,"v":62},{"E":5481,"v":62},{"E":5484,"v":85},{"E":5486,"v":120},{"E":5488,"v":155},{"E":5490,"v":168},{"E":5492,"v":150},{"E":5494,"v":112},{"E":5496,"v":75},{"E":5498,"v":61},{"E":5500,"v":60}
],
"fit2": [
{"E":5500,"v":60},{"E":5501.5,"v":62},{"E":5503.7,"v":77},{"E":5506.5,"v":147},{"E":5508.95,"v":226},{"E":5510.7,"v":250},{"E":5512.45,"v":226},{"E":5514.9,"v":146},{"E":5517.7,"v":75},{"E":5521.2,"v":49},{"E":5525,"v":45.5},{"E":5535,"v":44},{"E":5545,"v":43},{"E":5553,"v":42.8},{"E":5556,"v":43.3},{"E":5559.1,"v":45.5},{"E":5561.7,"v":53},{"E":5563.9,"v":61.5},{"E":5565.5,"v":64},{"E":5567.1,"v":61},{"E":5569.3,"v":52},{"E":5571.9,"v":44},{"E":5575,"v":41},{"E":5585,"v":38.8},{"E":5600,"v":36.5}
]
},
"vconcat": [
{
"width": 1054, "height": 637,
"resolve": {"axis": {"x": "independent", "y": "independent"}},
"layer": [
{"data": {"values": [{}]}, "mark": {"type": "text", "text": "Preliminary", "font": "Roboto", "fontWeight": 300, "fontSize": 189, "color": "#e8e8e8", "angle": -7.6, "align": "center", "baseline": "alphabetic"},
 "encoding": {"x": {"datum": 5375, "type": "quantitative", "axis": null}, "y": {"datum": 316, "type": "quantitative", "axis": null}}},
{"data": {"name": "pts"}, "mark": {"type": "errorbar", "ticks": {"size": 8, "color": "black", "thickness": 1.6}, "rule": {"color": "black", "strokeWidth": 1.7}},
 "encoding": {"x": {"field": "E", "type": "quantitative", "axis": null}, "y": {"field": "n", "type": "quantitative", "axis": null}, "yError": {"field": "e"}}},
{"data": {"name": "pts"}, "mark": {"type": "circle", "size": 130, "color": "black", "opacity": 1},
 "encoding": {
  "x": {"field": "E", "type": "quantitative", "scale": {"domain": [5150, 5600], "nice": false, "zero": false},
        "axis": {"orient": "bottom", "values": [5150,5200,5250,5300,5350,5400,5450,5500,5550,5600], "tickSize": -19, "labels": false, "title": null}},
  "y": {"field": "n", "type": "quantitative", "scale": {"domain": [12, 759], "nice": false, "zero": false},
        "axis": {"orient": "left", "values": [100,200,300,400,500,600,700], "tickSize": -32, "labelFontSize": 37, "labelPadding": 43, "title": "Events / ( 0.4 keV )", "titleFontSize": 39, "titleAngle": -90, "titleX": -124, "titleY": 0, "titleAlign": "right", "titleBaseline": "middle"}}}},
{"data": {"name": "comps"}, "mark": {"type": "line", "strokeWidth": 4, "interpolate": "monotone", "clip": true},
 "encoding": {"x": {"field": "E", "type": "quantitative", "axis": null}, "y": {"field": "v", "type": "quantitative", "axis": null},
  "color": {"field": "c", "type": "nominal", "legend": null, "scale": {
   "domain": ["c8","c22","c1","c2","c3","c5","c4","c6","c7","c10","c11","c13","c12","c14","c15","c30","c16","c18","c17","c19","c20","c21","c23","c24","c25","c31","c26","c27","c28","c29"],
   "range": ["#c8ccf4","#aab2f6","#c040c0","#f0b8c8","#b050c0","#c8a0d2","#1010ff","#e020e0","#6a2a6a","#5a5ea8","#3030d0","#f080f0","#000080","#f010f0","#44488c","#2a2a70","#10108a","#f4b4f4","#44488c","#a050a8","#e070e8","#8a3a8a","#6670f0","#2a2ae8","#4b1850","#dcdcff","#1414c8","#7a3a80","#8f95c8","#b07898"]}}}},
{"data": {"name": "bg"}, "mark": {"type": "line", "color": "black", "strokeWidth": 5, "clip": true},
 "encoding": {
  "x": {"field": "E", "type": "quantitative", "axis": {"orient": "bottom", "values": [5160,5170,5180,5190,5200,5210,5220,5230,5240,5250,5260,5270,5280,5290,5300,5310,5320,5330,5340,5350,5360,5370,5380,5390,5400,5410,5420,5430,5440,5450,5460,5470,5480,5490,5500,5510,5520,5530,5540,5550,5560,5570,5580,5590], "tickSize": -9, "labels": false, "title": null}},
  "y": {"field": "v", "type": "quantitative", "axis": {"orient": "left", "values": [20,40,60,80,100,120,140,160,180,200,220,240,260,280,300,320,340,360,380,400,420,440,460,480,500,520,540,560,580,600,620,640,660,680,700,720,740], "tickSize": -16, "labels": false, "title": null}}}},
{"data": {"name": "fit"}, "mark": {"type": "line", "color": "#ff0000", "strokeWidth": 7, "interpolate": "monotone", "clip": true},
 "encoding": {"x": {"field": "E", "type": "quantitative", "axis": null}, "y": {"field": "v", "type": "quantitative", "axis": null}}},
{"data": {"name": "fit2"}, "mark": {"type": "line", "color": "#ff0000", "strokeWidth": 1.5, "interpolate": "monotone", "clip": true},
 "encoding": {"x": {"field": "E", "type": "quantitative", "axis": null}, "y": {"field": "v", "type": "quantitative", "axis": null}}}
]
},
{
"width": 1054, "height": 415,
"resolve": {"axis": {"x": "independent", "y": "independent"}},
"layer": [
{"data": {"name": "pts"}, "mark": {"type": "errorbar", "ticks": {"size": 8, "color": "black", "thickness": 1.6}, "rule": {"color": "black", "strokeWidth": 1.7}},
 "encoding": {
  "x": {"field": "E", "type": "quantitative", "axis": {"orient": "bottom", "values": [5160,5170,5180,5190,5200,5210,5220,5230,5240,5250,5260,5270,5280,5290,5300,5310,5320,5330,5340,5350,5360,5370,5380,5390,5400,5410,5420,5430,5440,5450,5460,5470,5480,5490,5500,5510,5520,5530,5540,5550,5560,5570,5580,5590], "tickSize": -5, "labels": false, "title": null}},
  "y": {"field": "r", "type": "quantitative", "axis": {"orient": "left", "values": [-9.5,-9,-8.5,-8,-7.5,-7,-6.5,-6,-5.5,-5,-4.5,-4,-3.5,-3,-2.5,-2,-1.5,-1,-0.5,0,0.5,1,1.5,2,2.5,3,3.5,4,4.5,5,5.5,6,6.5,7,7.5], "tickSize": -16, "labels": false, "title": null}},
  "yError": {"field": "u"}}},
{"data": {"name": "pts"}, "mark": {"type": "circle", "size": 130, "color": "black", "opacity": 1},
 "encoding": {
  "x": {"field": "E", "type": "quantitative", "scale": {"domain": [5150, 5600], "nice": false, "zero": false},
        "axis": {"orient": "bottom", "values": [5150,5200,5250,5300,5350,5400,5450,5500,5550,5600], "tickSize": -11, "labelFontSize": 23, "labelPadding": 15, "format": "d", "title": "Energy [keV]", "titleFontSize": 23, "titleX": 527, "titleY": 42, "titleAlign": "center", "titleBaseline": "middle"}},
  "y": {"field": "r", "type": "quantitative", "scale": {"domain": [-9.76, 7.6], "nice": false, "zero": false},
        "axis": {"orient": "left", "values": [-8,-6,-4,-2,0,2,4,6], "tickSize": -32, "labelFontSize": 23, "labelPadding": 38, "title": "(data-fit)/σ", "titleFontSize": 21, "titleAngle": -90, "titleX": -90, "titleY": 207.5, "titleAlign": "center", "titleBaseline": "middle"}}}}
]
}
]
}
